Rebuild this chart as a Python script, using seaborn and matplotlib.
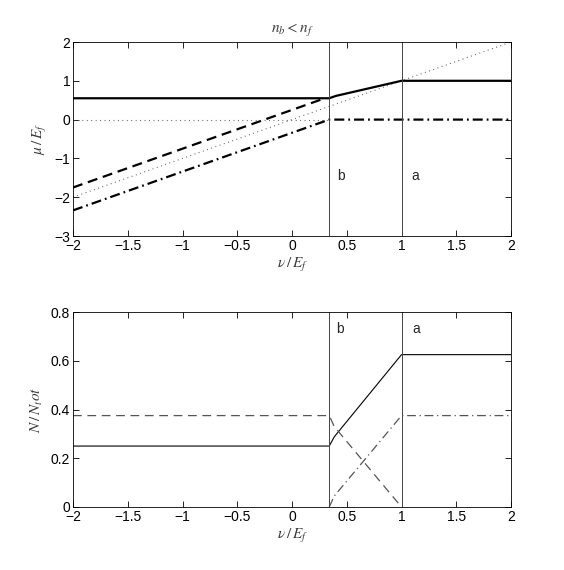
import matplotlib
matplotlib.use("Agg")
import matplotlib.pyplot as plt
import seaborn as sns
import numpy as np

# ---- data ----
x_b = 0.34   # boundary "b"
x_a = 1.0    # boundary "a"

# top panel: mu / E_f
top_solid_x = [-2.0, 0.34, 0.40, 1.0, 2.0]
top_solid_y = [0.55, 0.55, 0.61, 1.0, 1.0]
top_dash_x = [-2.0, 0.30]
top_dash_y = [-1.75, 0.55]
top_dashdot_x = [-2.0, 0.34, 2.0]
top_dashdot_y = [-2.34, 0.0, 0.0]
top_diag_x = [-2.0, 2.0]
top_diag_y = [-2.0, 2.0]
top_zero_x = [-2.0, 0.34]
top_zero_y = [0.0, 0.0]

# bottom panel: N / N_tot
bot_solid_x = [-2.0, 0.34, 0.386, 1.0, 2.0]
bot_solid_y = [0.25, 0.25, 0.288, 0.625, 0.625]
bot_dash_x = [-2.0, 0.34, 0.386, 1.0]
bot_dash_y = [0.375, 0.375, 0.33, 0.0]
bot_dashdot_x = [0.34, 0.386, 1.0, 2.0]
bot_dashdot_y = [0.0, 0.045, 0.375, 0.375]

xticks = [-2, -1.5, -1, -0.5, 0, 0.5, 1, 1.5, 2]
xticklabels = ["\u22122", "\u22121.5", "\u22121", "\u22120.5", "0", "0.5", "1", "1.5", "2"]
top_yticks = [-3, -2, -1, 0, 1, 2]
top_yticklabels = ["\u22123", "\u22122", "\u22121", "0", "1", "2"]
bot_yticks = [0, 0.2, 0.4, 0.6, 0.8]
bot_yticklabels = ["0", "0.2", "0.4", "0.6", "0.8"]

sns.set_theme(style="white")
plt.rcParams["font.family"] = ["Liberation Sans", "DejaVu Sans"]
plt.rcParams["mathtext.fontset"] = "stix"

fig = plt.figure(figsize=(5.64, 5.70), dpi=100)
ax1 = fig.add_axes([73/564, 1-236/570, 438/564, 194/570])
ax2 = fig.add_axes([73/564, 1-507/570, 438/564, 195/570])

lab_col = "#3a3a3a"

# top panel
sns.lineplot(x=top_diag_x, y=top_diag_y, ax=ax1, color="#555555", lw=0.8,
             linestyle=(0, (0.8, 3.2)), sort=False, estimator=None)
sns.lineplot(x=top_zero_x, y=top_zero_y, ax=ax1, color="#555555", lw=0.8,
             linestyle=(0, (0.8, 3.2)), sort=False, estimator=None)
sns.lineplot(x=top_solid_x, y=top_solid_y, ax=ax1, color="black", lw=1.6,
             sort=False, estimator=None)
sns.lineplot(x=top_dash_x, y=top_dash_y, ax=ax1, color="black", lw=1.6,
             linestyle=(0, (4.5, 2.6)), sort=False, estimator=None)
sns.lineplot(x=top_dashdot_x, y=top_dashdot_y, ax=ax1, color="black", lw=1.6,
             linestyle=(0, (4.5, 1.8, 0.8, 1.8)), sort=False, estimator=None)
ax1.axvline(x_b, color="#444444", lw=0.7)
ax1.axvline(x_a, color="#444444", lw=0.7)
ax1.text(0.41, -1.45, "b", fontsize=10, va="center", ha="left")
ax1.text(1.09, -1.45, "a", fontsize=10, va="center", ha="left")
ax1.set_xlim(-2, 2)
ax1.set_ylim(-3, 2)
ax1.set_xticks(xticks)
ax1.set_xticklabels(xticklabels)
ax1.set_yticks(top_yticks)
ax1.set_yticklabels(top_yticklabels)
ax1.set_xlabel(r"$\nu\,/\,E_f$", fontsize=11, color=lab_col, labelpad=2)
ax1.set_ylabel(r"$\mu\,/\,E_f$", fontsize=11, color=lab_col, labelpad=4)
ax1.set_title(r"$n_b < n_f$", fontsize=11, color=lab_col, pad=7)

# bottom panel
sns.lineplot(x=bot_solid_x, y=bot_solid_y, ax=ax2, color="black", lw=0.8,
             sort=False, estimator=None)
sns.lineplot(x=bot_dash_x, y=bot_dash_y, ax=ax2, color="#555555", lw=0.9,
             linestyle=(0, (7, 4.5)), sort=False, estimator=None)
sns.lineplot(x=bot_dashdot_x, y=bot_dashdot_y, ax=ax2, color="#555555", lw=0.9,
             linestyle=(0, (7, 3, 1, 3)), sort=False, estimator=None)
ax2.axvline(x_b, color="#444444", lw=0.7)
ax2.axvline(x_a, color="#444444", lw=0.7)
ax2.text(0.40, 0.73, "b", fontsize=10, va="center", ha="left")
ax2.text(1.10, 0.73, "a", fontsize=10, va="center", ha="left")
ax2.set_xlim(-2, 2)
ax2.set_ylim(0, 0.8)
ax2.set_xticks(xticks)
ax2.set_xticklabels(xticklabels)
ax2.set_yticks(bot_yticks)
ax2.set_yticklabels(bot_yticklabels)
ax2.set_xlabel(r"$\nu\,/\,E_f$", fontsize=11, color=lab_col, labelpad=2)
ax2.set_ylabel(r"$N\,/\,N_tot$", fontsize=11, color=lab_col, labelpad=4)

for ax in (ax1, ax2):
    for s in ax.spines.values():
        s.set_color("black")
        s.set_linewidth(0.6)
    ax.tick_params(direction="in", length=4, width=0.6, top=True, right=True,
                   bottom=True, left=True, labelsize=10, pad=2, colors="black")
    ax.grid(False)

fig.savefig("out.png", dpi=100)
